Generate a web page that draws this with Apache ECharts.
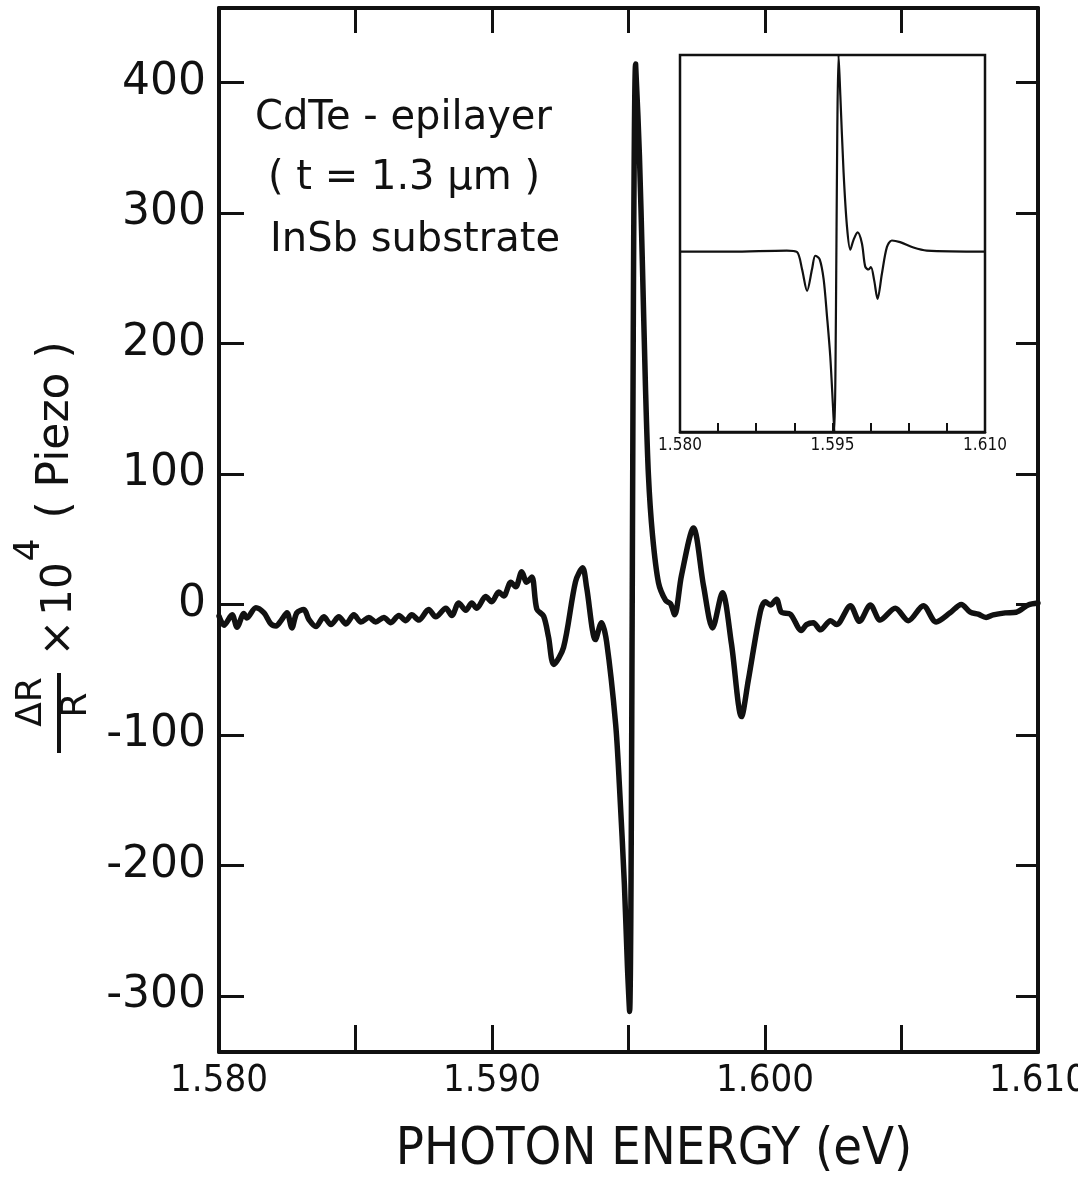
<!DOCTYPE html>
<html>
<head>
<meta charset="utf-8">
<script src="https://cdn.jsdelivr.net/npm/echarts@6/dist/echarts.min.js"></script>
<style>
html,body{margin:0;padding:0;background:#fff;overflow:hidden;}
#chart{width:1078px;height:1181px;}
</style>
</head>
<body>
<div id="chart"></div>
<script>
// ---- Main spectrum (photon energy in eV, ΔR/R × 10^4) ----
const mainEnergy = [
  1.5800, 1.58018, 1.58048, 1.58066, 1.58091, 1.58102, 1.58135, 1.58165, 1.58190, 1.58209,
  1.58227, 1.58249, 1.58267, 1.58285, 1.58311, 1.58329, 1.58355, 1.58384, 1.58410, 1.58439,
  1.58465, 1.58494, 1.58520, 1.58549, 1.58574, 1.58604, 1.58629, 1.58659, 1.58684, 1.58706,
  1.58732, 1.58768, 1.58794, 1.58831, 1.58853, 1.58878, 1.58904, 1.58926, 1.58944, 1.58977,
  1.58999, 1.59025, 1.59043, 1.59069, 1.59087, 1.59109, 1.59127, 1.59146, 1.59164, 1.59189,
  1.59207, 1.59226, 1.59262, 1.59306, 1.59332, 1.59347, 1.59379, 1.59401, 1.59420, 1.59453,
  1.59467, 1.59485, 1.59496, 1.59504, 1.59526, 1.59540, 1.59551, 1.59562, 1.59573, 1.59588,
  1.59610, 1.59636, 1.59654, 1.59669, 1.59694, 1.59738, 1.59775, 1.59808, 1.59844, 1.59877,
  1.59914, 1.59939, 1.59983, 1.60001, 1.60020, 1.60042, 1.60060, 1.60093, 1.60133, 1.60152,
  1.60177, 1.60203, 1.60240, 1.60262, 1.60313, 1.60346, 1.60386, 1.60422, 1.60477, 1.60525,
  1.60580, 1.60627, 1.60678, 1.60719, 1.60752, 1.60781, 1.60810, 1.60836, 1.60880, 1.60920,
  1.60964, 1.61000
];
const mainSignal = [
  -9, -16, -8, -17.5, -7, -10.5, -2.5, -6.5, -15, -16.5,
  -12.5, -6.5, -18, -6.5, -4, -11.5, -17, -9.5, -15.5, -9.5,
  -15, -8, -13.5, -10, -13.5, -10, -14, -8.5, -12.5, -8,
  -12, -4, -9.5, -3, -8.5, 1, -4.5, 1, -3, 6,
  2, 9.5, 6.5, 17, 13.5, 25, 17, 21, -3.5, -9,
  -25, -46, -33, 17.5, 28, 12.5, -27, -14, -29, -92,
  -140, -215, -277, -312, 414, 344, 260, 168, 99, 53,
  16.5, 3, 0.5, -8, 22, 58.5, 14, -18, 9, -30,
  -86, -58, -5.5, 2, -0.5, 4, -6, -7.5, -20, -15.5,
  -14, -19.5, -12.5, -15.5, -1, -13, -0.5, -12, -3, -12.5,
  -1, -13.5, -6.5, 0, -6, -7.5, -10, -8, -6.5, -6,
  -0.5, 1
];

// ---- Inset (calculated lineshape, arbitrary units) ----
const insetEnergy = [
  1.5800, 1.5850, 1.5905, 1.59151, 1.59200, 1.59250, 1.59299, 1.59331, 1.59374, 1.59413,
  1.59446, 1.59478, 1.59505, 1.59518, 1.59560, 1.59577, 1.59609, 1.59642, 1.59675, 1.59707,
  1.59747, 1.59789, 1.59822, 1.59855, 1.59878, 1.59910, 1.59943, 1.59986, 1.60035, 1.60084,
  1.60165, 1.60296, 1.60427, 1.6100
];
const insetSignal = [
  0, 0, 3, -1.5, -52, -117, -52, -12.5, -23, -83,
  -193, -313, -463, -538, 586, 466, 236, 76, 5.5, 35,
  57, 25, -45, -53.5, -46, -86, -141, -66, 13, 33,
  28, 12, 3, 0
];

// ---- Axis ticks and labels ----
const yTickValues = [-300, -200, -100, 0, 100, 200, 300, 400];
const xTickValues = [1.580, 1.585, 1.590, 1.595, 1.600, 1.605, 1.610];
const xLabelValues = [1.580, 1.590, 1.600, 1.610];
const insetTickValues = [1.58375, 1.5875, 1.59125, 1.595, 1.59875, 1.6025, 1.60625];
const insetLabelValues = [1.580, 1.595, 1.610];

const annotationLines = ['CdTe - epilayer', '( t = 1.3 μm )', 'InSb substrate'];
const xAxisTitle = 'PHOTON ENERGY (eV)';

const ink = '#111';
const chart = echarts.init(document.getElementById('chart'), null, {renderer: 'canvas', width: 1078, height: 1181});

const mainData = mainEnergy.map((e, i) => [e, mainSignal[i]]);
const insetData = insetEnergy.map((e, i) => [e, insetSignal[i]]);

const serifless = 'DejaVu Sans, Liberation Sans, sans-serif';
const narrow = 'Liberation Sans Narrow, DejaVu Sans Condensed, Liberation Sans, sans-serif';

const option = {
  backgroundColor: '#fff',
  animation: false,
  grid: [
    {left: 219, right: 40, top: 8, bottom: 129, show: false, containLabel: false, outerBoundsMode: 'none'},
    {left: 680, top: 55, width: 305, height: 377, show: true, borderColor: ink, borderWidth: 2.5,
     backgroundColor: 'rgba(0,0,0,0)', containLabel: false, outerBoundsMode: 'none'}
  ],
  xAxis: [
    {
      gridIndex: 0, type: 'value', min: 1.580, max: 1.610, position: 'bottom',
      axisLine: {show: true, onZero: false, lineStyle: {color: ink, width: 4}},
      axisTick: {show: true, inside: true, length: 27, lineStyle: {color: ink, width: 3}, customValues: xTickValues},
      axisLabel: {show: true, customValues: xLabelValues, formatter: v => v.toFixed(3), color: ink,
        fontSize: 38, fontFamily: narrow, margin: 10},
      splitLine: {show: false}
    },
    {
      gridIndex: 0, type: 'value', min: 1.580, max: 1.610, position: 'top',
      axisLine: {show: true, onZero: false, lineStyle: {color: ink, width: 4}},
      axisTick: {show: true, inside: true, length: 25, lineStyle: {color: ink, width: 3}, customValues: xTickValues},
      axisLabel: {show: false},
      splitLine: {show: false}
    },
    {
      gridIndex: 1, type: 'value', min: 1.580, max: 1.610, position: 'bottom',
      axisLine: {show: true, onZero: false, lineStyle: {color: ink, width: 2.5}},
      axisTick: {show: true, inside: true, length: 9, lineStyle: {color: ink, width: 2}, customValues: insetTickValues},
      axisLabel: {show: true, customValues: insetLabelValues, formatter: v => v.toFixed(3), color: ink,
        fontSize: 17, fontFamily: narrow, margin: 5},
      splitLine: {show: false}
    }
  ],
  yAxis: [
    {
      gridIndex: 0, type: 'value', min: -343, max: 457, position: 'left',
      axisLine: {show: true, onZero: false, lineStyle: {color: ink, width: 4}},
      axisTick: {show: true, inside: true, length: 25, lineStyle: {color: ink, width: 3}, customValues: yTickValues},
      axisLabel: {show: true, customValues: yTickValues, color: ink, fontSize: 44, fontFamily: serifless, margin: 13},
      splitLine: {show: false}
    },
    {
      gridIndex: 0, type: 'value', min: -343, max: 457, position: 'right',
      axisLine: {show: true, onZero: false, lineStyle: {color: ink, width: 4}},
      axisTick: {show: true, inside: true, length: 22, lineStyle: {color: ink, width: 3}, customValues: yTickValues},
      axisLabel: {show: false},
      splitLine: {show: false}
    },
    {
      gridIndex: 1, type: 'value', min: -538, max: 586, show: false,
      splitLine: {show: false}
    }
  ],
  series: [
    {
      type: 'line', xAxisIndex: 0, yAxisIndex: 0, data: mainData,
      showSymbol: false, smooth: 0.3, clip: true,
      lineStyle: {color: ink, width: 5.5, join: 'round', cap: 'round'}
    },
    {
      type: 'line', xAxisIndex: 2, yAxisIndex: 2, data: insetData,
      showSymbol: false, smooth: 0.3, clip: true,
      lineStyle: {color: ink, width: 2.2, join: 'round'}
    }
  ],
  graphic: [
    {type: 'text', left: 255, top: 99, style: {text: annotationLines[0], fill: ink, font: '40px ' + serifless}},
    {type: 'text', left: 268, top: 159, style: {text: annotationLines[1], fill: ink, font: '40px ' + serifless}},
    {type: 'text', left: 270, top: 221, style: {text: annotationLines[2], fill: ink, font: '40px ' + serifless}},
    {type: 'text', x: 654, y: 1150, style: {text: xAxisTitle, fill: ink, font: '52px ' + narrow, align: 'center', verticalAlign: 'middle'}},
    // Y-axis title, rotated: ΔR / R × 10^4 (Piezo)
    {type: 'text', x: 32, y: 702, rotation: Math.PI / 2, style: {text: 'ΔR', fill: ink, font: '36px ' + serifless, align: 'center', verticalAlign: 'middle'}},
    {type: 'line', shape: {x1: 59, y1: 673, x2: 59, y2: 753}, style: {stroke: ink, lineWidth: 4}},
    {type: 'text', x: 77, y: 705, rotation: Math.PI / 2, style: {text: 'R', fill: ink, font: '36px ' + serifless, align: 'center', verticalAlign: 'middle'}},
    {type: 'text', x: 60, y: 638, rotation: Math.PI / 2, style: {text: '×', fill: ink, font: '44px ' + serifless, align: 'center', verticalAlign: 'middle'}},
    {type: 'text', x: 60, y: 589, rotation: Math.PI / 2, style: {text: '10', fill: ink, font: '42px ' + serifless, align: 'center', verticalAlign: 'middle'}},
    {type: 'text', x: 30, y: 550, rotation: Math.PI / 2, style: {text: '4', fill: ink, font: '36px ' + serifless, align: 'center', verticalAlign: 'middle'}},
    {type: 'text', x: 57, y: 430, rotation: Math.PI / 2, style: {text: '( Piezo )', fill: ink, font: '44px ' + serifless, align: 'center', verticalAlign: 'middle'}}
  ]
};
chart.setOption(option);
</script>
</body>
</html>
